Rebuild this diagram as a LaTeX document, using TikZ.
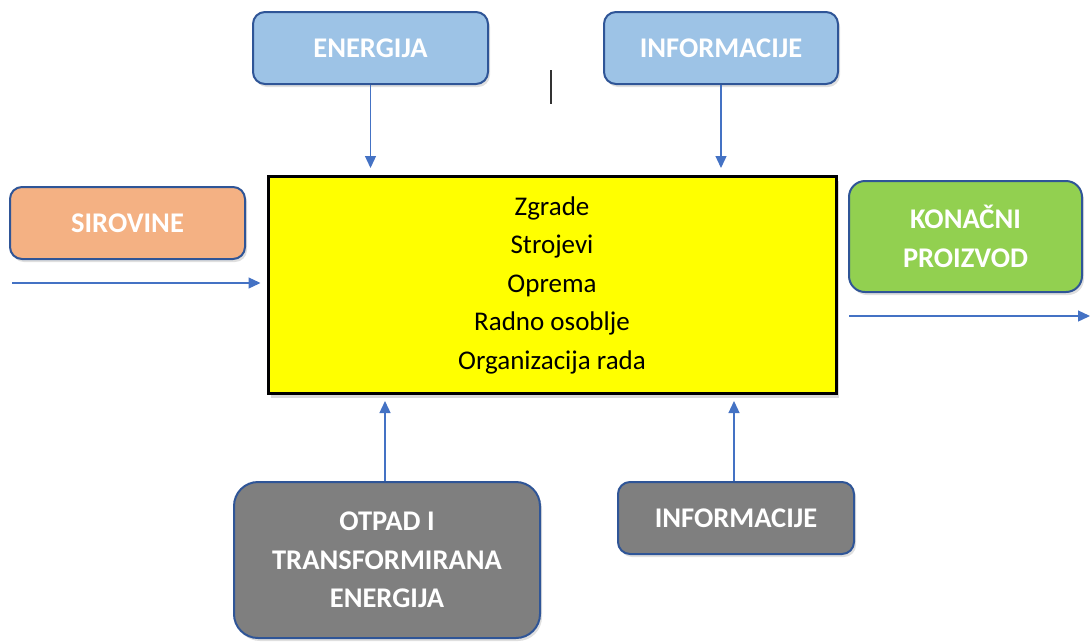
\documentclass[tikz,border=0pt]{standalone}
\usepackage{fontspec}
\setmainfont{Carlito}
\usetikzlibrary{arrows.meta,shadows}
\definecolor{boxblue}{HTML}{9DC3E6}
\definecolor{boxorange}{HTML}{F4B183}
\definecolor{boxgreen}{HTML}{92D050}
\definecolor{boxgray}{HTML}{7F7F7F}
\definecolor{boxyellow}{HTML}{FFFF00}
\definecolor{edgeblue}{HTML}{2F5597}
\definecolor{arrowblue}{HTML}{4472C4}
\tikzset{
  lbl/.style={draw=edgeblue, line width=2pt, rounded corners=12pt, text=white,
    font=\fontsize{28.5}{38.5}\selectfont\bfseries, align=center, inner sep=0pt,
    drop shadow={opacity=0.25, shadow xshift=2pt, shadow yshift=-3pt}},
  flow/.style={draw=arrowblue, line width=1.3pt, -{Triangle[width=11pt,length=12pt]}},
}
\begin{document}
\begin{tikzpicture}[x=1pt,y=-1pt]
	\useasboundingbox (0,0) rectangle (1092,641);
	% main box
	\node[draw=black, line width=3pt, fill=boxyellow, minimum width=568pt, minimum height=217pt,
		align=center, font=\fontsize{27}{38.5}\selectfont, inner sep=0pt,
		drop shadow={opacity=0.3, shadow xshift=3pt, shadow yshift=-4pt}] (main) at (552,285)
		{Zgrade\\Strojevi\\Oprema\\Radno osoblje\\Organizacija rada};
	% inputs and outputs
	\node[lbl, fill=boxblue, minimum width=235pt, minimum height=72pt] (energija) at (370.5,48) {ENERGIJA};
	\node[lbl, fill=boxblue, minimum width=234pt, minimum height=72pt] (infogore) at (721,48) {INFORMACIJE};
	\node[lbl, fill=boxorange, minimum width=235pt, minimum height=72pt] (sirovine) at (127.5,223) {SIROVINE};
	\node[lbl, fill=boxgreen, rounded corners=16pt, minimum width=233pt, minimum height=111pt] (proizvod) at (965.5,236.5) {KONAČNI\\PROIZVOD};
	\node[lbl, fill=boxgray, rounded corners=24pt, minimum width=306pt, minimum height=156pt] (otpad) at (387,560) {OTPAD I\\TRANSFORMIRANA\\ENERGIJA};
	\node[lbl, fill=boxgray, minimum width=236pt, minimum height=72pt] (infodolje) at (736,518) {INFORMACIJE};
	\coordinate (ulaz) at (12,283);
	\coordinate (izlazA) at (849,316);
	\coordinate (izlazB) at (1090,316);
	% arrows
	\draw[flow, shorten >=7pt] (energija.south) -- (energija.south |- main.north);
	\draw[flow, shorten >=7pt] (infogore.south) -- (infogore.south |- main.north);
	\draw[flow, shorten >=6pt] (ulaz) -- (ulaz -| main.west);
	\draw[flow] (izlazA) -- (izlazB);
	\draw[flow, shorten >=6pt] (otpad.north) ++(-2,0) coordinate (otpadgore) -- (otpadgore |- main.south);
	\draw[flow, shorten >=6pt] (infodolje.north) ++(-2,0) coordinate (infogore2) -- (infogore2 |- main.south);
	% stray cursor mark
	\draw[line width=1.5pt, black!80] (551,70) -- (551,104);
\end{tikzpicture}
\end{document}
